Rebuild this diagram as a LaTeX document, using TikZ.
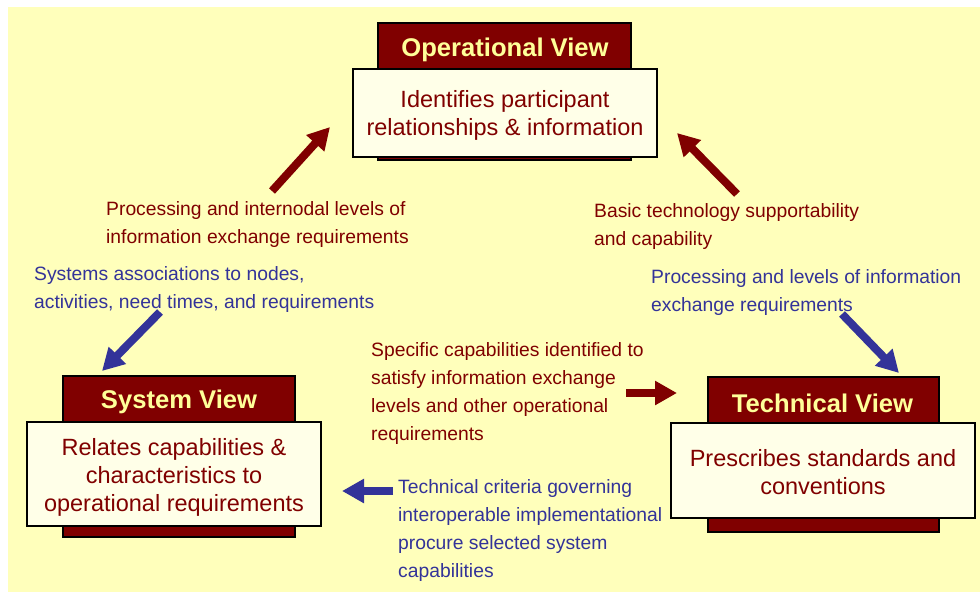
\documentclass[tikz,border=0pt]{standalone}
\usepackage{fontspec}
\setmainfont{Liberation Sans}
\usetikzlibrary{arrows.meta}
\definecolor{bgyellow}{RGB}{255,255,187}
\definecolor{darkred}{RGB}{128,0,0}
\definecolor{cream}{RGB}{255,255,232}
\definecolor{titleyellow}{RGB}{255,255,153}
\definecolor{myblue}{RGB}{51,51,153}
\tikzset{
  darkbox/.style={draw=black, line width=1.5pt, fill=darkred, inner sep=0pt},
  whitebox/.style={draw=black, line width=1.5pt, fill=cream, text=darkred, align=center, inner sep=0pt,
    font=\fontsize{23.5}{28}\selectfont},
  viewtitle/.style={text=titleyellow, font=\bfseries\fontsize{25.6}{30}\selectfont, inner sep=0pt},
  redlabel/.style={text=darkred, align=left, anchor=west, inner sep=0pt, font=\fontsize{19.3}{28}\selectfont},
  bluelabel/.style={text=myblue, align=left, anchor=west, inner sep=0pt, font=\fontsize{19.3}{28}\selectfont},
  redarrow/.style={draw=darkred, line width=8pt, -{Triangle[width=23pt,length=22pt]}},
  bluearrow/.style={draw=myblue, line width=8pt, -{Triangle[width=23pt,length=22pt]}},
}
\begin{document}
\begin{tikzpicture}[x=1pt,y=-1pt]
\useasboundingbox (0,0) rectangle (980,592);
\fill[bgyellow] (8,7) rectangle (980,592);

% Operational View
\node[darkbox, minimum width=253pt, minimum height=137pt] (opdark) at (504.5,91.5) {};
\node[viewtitle] (optitle) at (505,49.5) {Operational View};
\node[whitebox, minimum width=304pt, minimum height=88pt] (opbox) at (505,113)
  {\rule{0pt}{21pt}Identifies participant\\relationships \& information};

% System View
\node[darkbox, minimum width=232pt, minimum height=161pt] (sysdark) at (179,456.5) {};
\node[viewtitle] (systitle) at (179,401.5) {System View};
\node[whitebox, minimum width=294pt, minimum height=104pt] (sysbox) at (174,474)
  {\rule{0pt}{23pt}Relates capabilities \&\\characteristics to\\operational requirements};

% Technical View
\node[darkbox, minimum width=231pt, minimum height=155pt] (techdark) at (823.5,454.5) {};
\node[viewtitle] (techtitle) at (822.5,403) {Technical View};
\node[whitebox, minimum width=304pt, minimum height=95pt] (techbox) at (823,470.5)
  {\rule{0pt}{21pt}Prescribes standards and\\conventions};

% Labels
\node[redlabel] (l1) at (106,225) {Processing and internodal levels of\\information exchange requirements};
\node[bluelabel] (l2) at (34,290) {Systems associations to nodes,\\activities, need times, and requirements};
\node[redlabel] (l3) at (594,227) {Basic technology supportability\\and capability};
\node[bluelabel] (l4) at (651,293) {Processing and levels of information\\exchange requirements};
\node[redlabel] (l5) at (371,394) {Specific capabilities identified to\\satisfy information exchange\\levels and other operational\\requirements};
\node[bluelabel] (l6) at (398,531) {Technical criteria governing\\interoperable implementational\\procure selected system\\capabilities};

% Arrow end points
\coordinate (a1s) at (272,191); \coordinate (a1e) at (330,127);
\coordinate (a2s) at (737,194); \coordinate (a2e) at (677,133);
\coordinate (a3s) at (160,312); \coordinate (a3e) at (102,371);
\coordinate (a4s) at (842,314); \coordinate (a4e) at (899,373);
\coordinate (a5s) at (626,393); \coordinate (a5e) at (677,393);
\coordinate (a6s) at (393,491); \coordinate (a6e) at (342,491);

\draw[redarrow] (a1s) -- (a1e);
\draw[redarrow] (a2s) -- (a2e);
\draw[bluearrow] (a3s) -- (a3e);
\draw[bluearrow] (a4s) -- (a4e);
\draw[redarrow] (a5s) -- (a5e);
\draw[bluearrow] (a6s) -- (a6e);
\end{tikzpicture}
\end{document}
